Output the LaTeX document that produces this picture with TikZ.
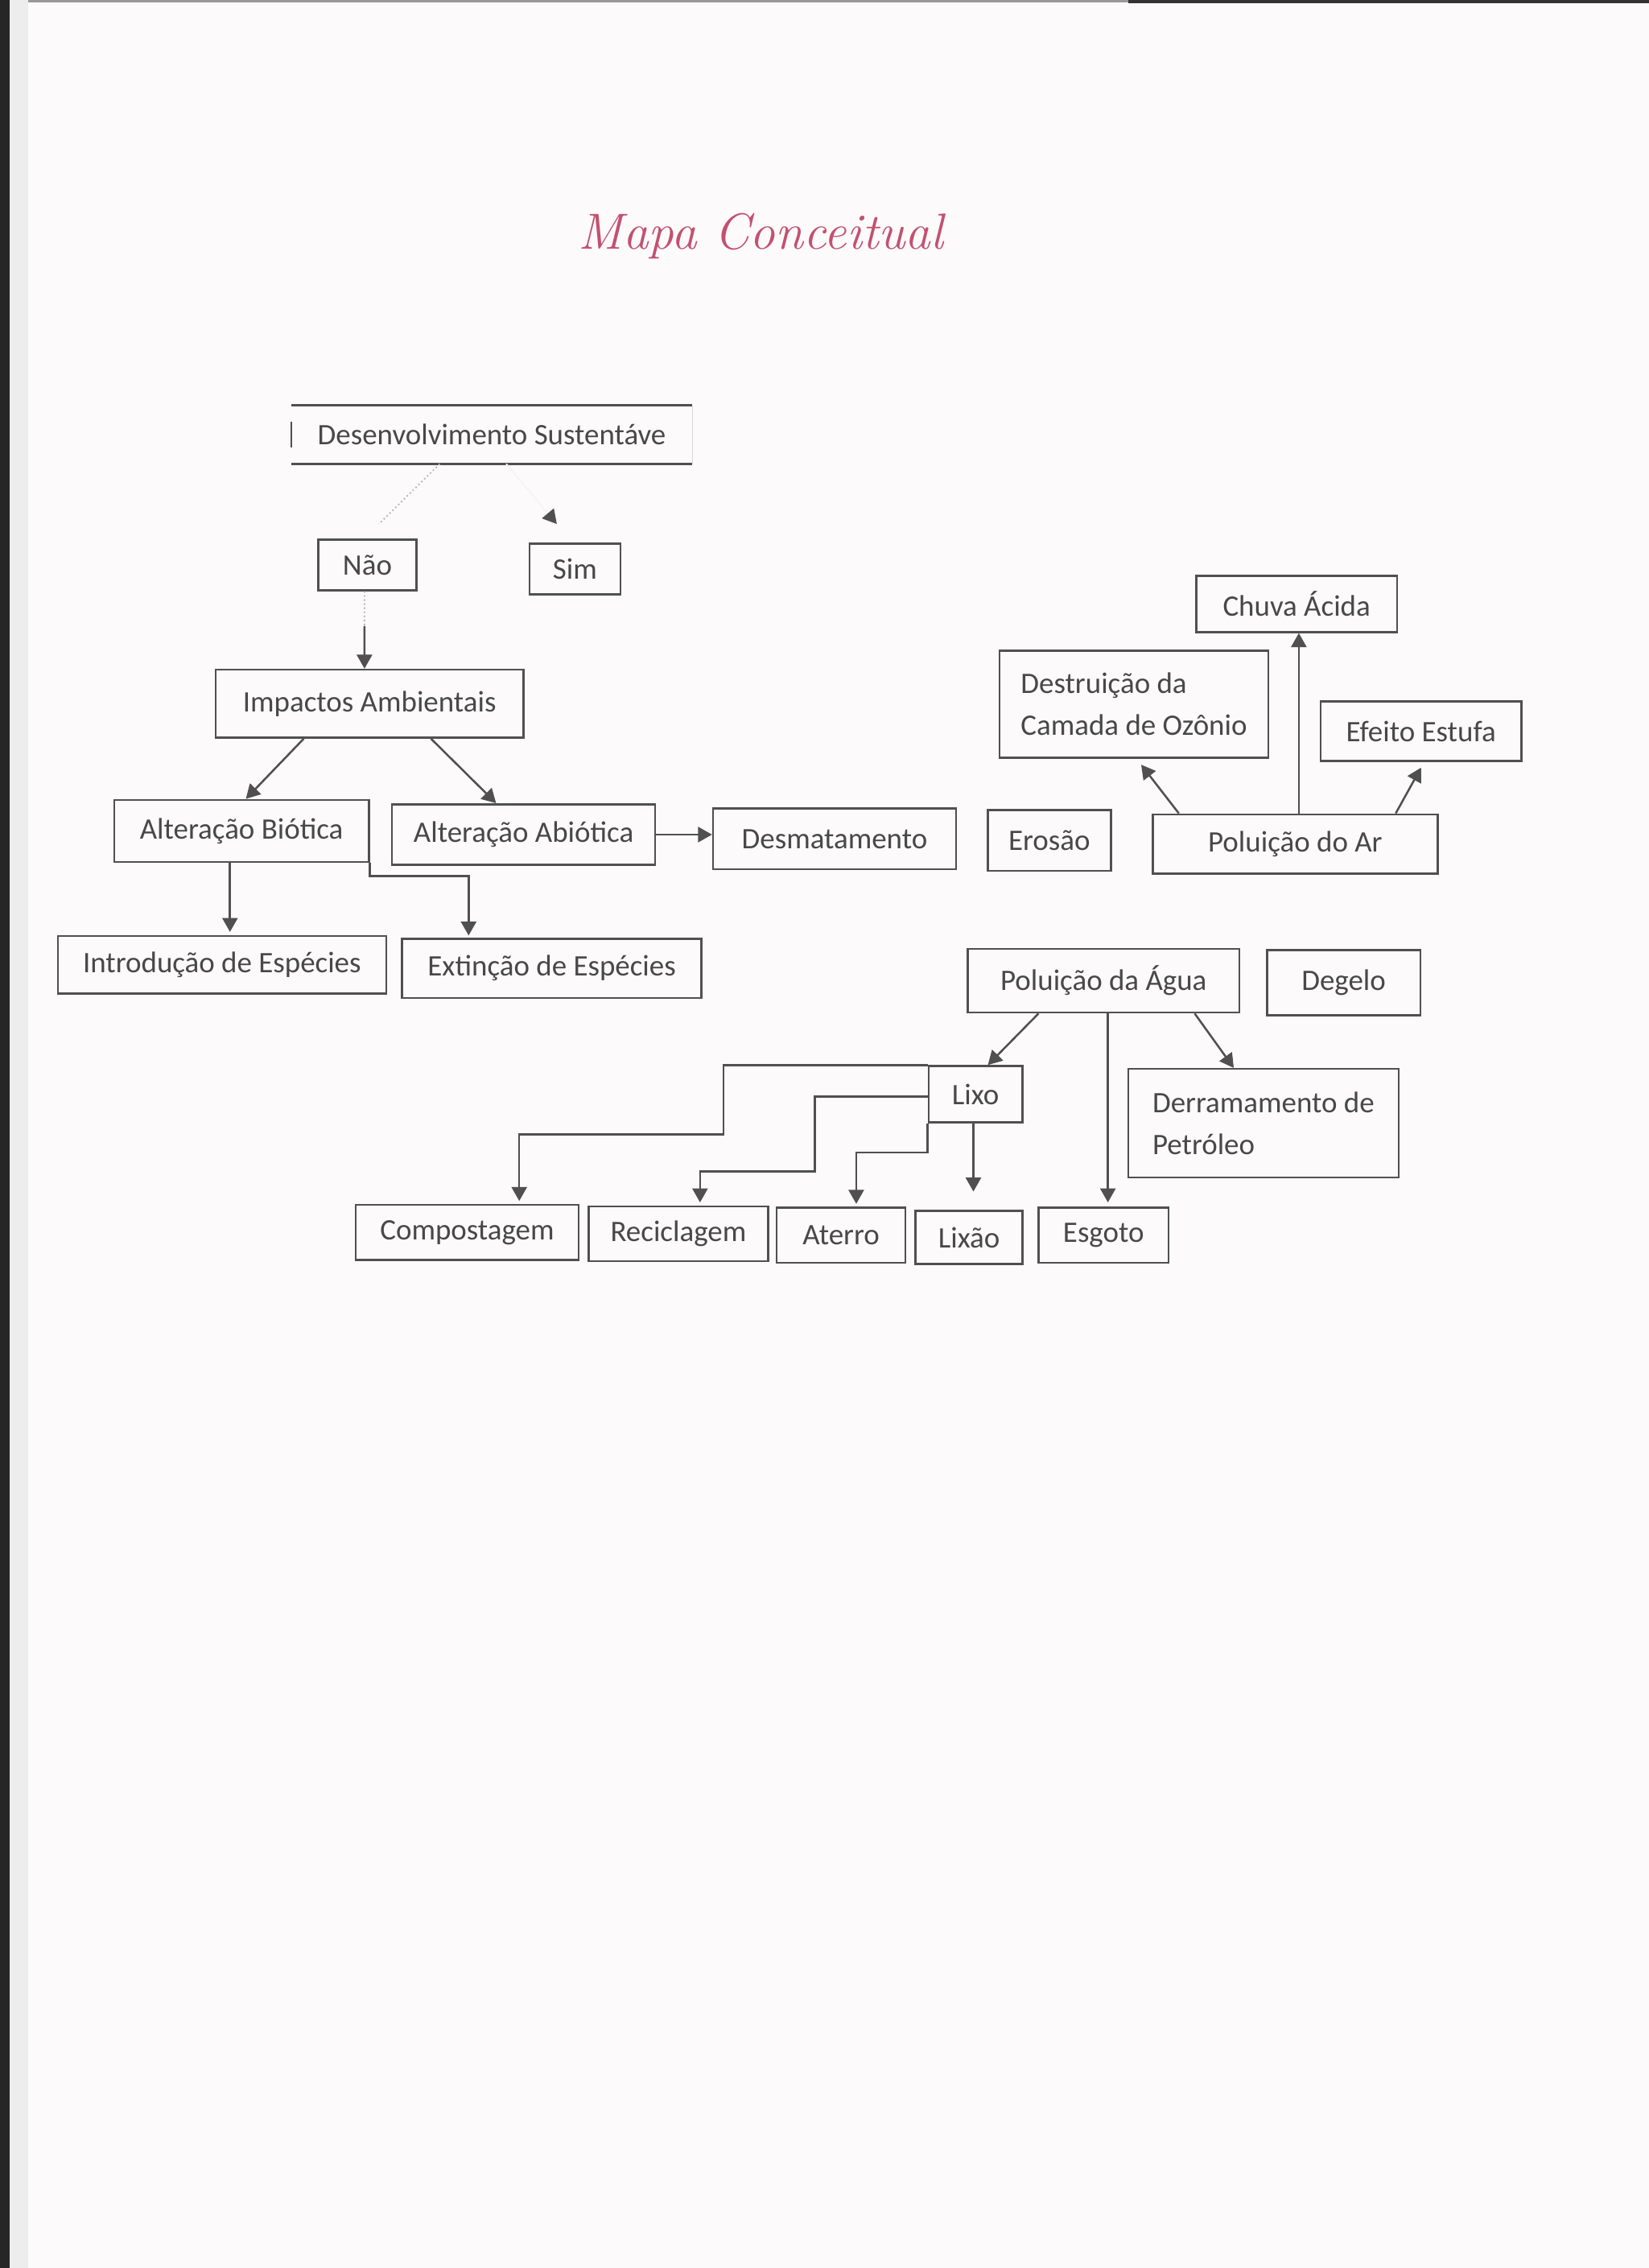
\documentclass[tikz,border=0pt]{standalone}
\usepackage{fontspec}
\newfontfamily\boxfont{Carlito}
\usetikzlibrary{calc, positioning, arrows.meta}

\definecolor{paper}{RGB}{252,250,251}
\definecolor{ink}{RGB}{72,72,72}
\definecolor{edge}{RGB}{80,80,80}
\definecolor{rose}{RGB}{196,80,112}

\tikzset{
  concept/.style={draw=edge, line width=0.8pt, text=ink, inner sep=0pt, align=center,
    font=\boxfont\fontsize{11.7}{16.5}\selectfont},
  dims/.style 2 args={minimum width=#1cm, minimum height=#2cm},
  twoline/.style={concept, align=left},
  link/.style={->, draw=edge, line width=0.8pt},
  faint/.style={draw=black!28, line width=0.6pt, densely dotted},
  ghost/.style={-{Triangle[length=5.5pt,width=6pt,color=edge]}, draw=black!4, line width=0.6pt},
}

\begin{document}
\begin{tikzpicture}[>={Triangle[length=5.5pt,width=6pt]}, x=1cm, y=1cm]
  \useasboundingbox (0,0) rectangle (22.8,-31.36);
  % sheet
  \fill[paper] (0,0) rectangle (22.8,-31.36);
  \fill[black!7] (0.13,0) rectangle (0.39,-31.36);
  \fill[black!85] (0,0) rectangle (0.13,-31.36);
  \fill[black!40] (0.39,0) rectangle (22.8,-0.03);
  \fill[black!80] (15.6,0) rectangle (22.8,-0.05);

  % title
  \node[font=\itshape\fontsize{20}{24}\selectfont, text=rose] (titulo) at (10.52,-3.26) {Mapa Conceitual};

  % top of the map
  \node[concept, draw=none, dims={5.52}{0.78}] (desenv) at (6.80,-6.01) {Desenvolvimento Sustentáve};
  \draw[edge, line width=0.8pt] (desenv.north west) -- (desenv.north east);
  \draw[edge, line width=0.8pt] (desenv.south west) -- (desenv.south east);
  \draw[edge, line width=0.8pt] ([yshift=0.18cm]desenv.west) -- ([yshift=-0.18cm]desenv.west);
  \draw[black!15, line width=0.5pt] (desenv.north east) -- (desenv.south east);
  \node[concept, dims={1.36}{0.70}] (nao) at (5.08,-7.81) {Não};
  \node[concept, dims={1.26}{0.70}] (sim) at (7.95,-7.87) {Sim};
  \node[concept, dims={4.26}{0.94}] (impactos) at (5.11,-9.73) {Impactos Ambientais};

  % alteracoes
  \node[concept, dims={3.52}{0.86}] (biotica) at (3.34,-11.49) {Alteração Biótica};
  \node[concept, dims={3.64}{0.84}] (abiotica) at (7.24,-11.54) {Alteração Abiótica};
  \node[concept, dims={3.36}{0.84}] (desmat) at (11.54,-11.60) {Desmatamento};
  \node[concept, dims={1.70}{0.84}] (erosao) at (14.51,-11.62) {Erosão};
  \node[concept, dims={4.54}{0.80}] (introd) at (3.07,-13.34) {Introdução de Espécies};
  \node[concept, dims={4.14}{0.82}] (extinc) at (7.63,-13.39) {Extinção de Espécies};

  % ar
  \node[concept, dims={3.94}{0.82}] (polar) at (17.91,-11.67) {Poluição do Ar};
  \node[concept, dims={2.78}{0.78}] (chuva) at (17.93,-8.35) {Chuva Ácida};
  \node[twoline, dims={3.72}{1.48}] (ozonio) at (15.68,-9.74) {Destruição da\\Camada de Ozônio};
  \node[concept, dims={2.78}{0.82}] (estufa) at (19.65,-10.11) {Efeito Estufa};

  % agua
  \node[concept, dims={3.76}{0.88}] (polagua) at (15.26,-13.56) {Poluição da Água};
  \node[concept, dims={2.12}{0.90}] (degelo) at (18.58,-13.59) {Degelo};
  \node[concept, dims={1.30}{0.78}] (lixo) at (13.49,-15.13) {Lixo};
  \node[twoline, dims={3.74}{1.50}] (derram) at (17.47,-15.53) {Derramamento de\\Petróleo};
  \node[concept, dims={3.08}{0.76}] (compost) at (6.46,-17.04) {Compostagem};
  \node[concept, dims={2.48}{0.76}] (recicl) at (9.38,-17.06) {Reciclagem};
  \node[concept, dims={1.78}{0.76}] (aterro) at (11.63,-17.08) {Aterro};
  \node[concept, dims={1.48}{0.74}] (lixao) at (13.40,-17.11) {Lixão};
  \node[concept, dims={1.80}{0.76}] (esgoto) at (15.26,-17.08) {Esgoto};

  % arrows, top
  \draw[faint] ([xshift=-0.72cm]desenv.south) -- ([xshift=0.16cm,yshift=0.2cm]nao.north);
  \draw[-{Triangle[length=5.5pt,width=6pt,color=edge]}, draw=none] ([xshift=0.26cm,yshift=0.32cm]nao.north) -- ([xshift=0.16cm,yshift=0.2cm]nao.north);
  \draw[ghost] ([xshift=0.2cm]desenv.south) -- ([xshift=-0.25cm,yshift=0.26cm]sim.north);
  \coordinate (naomid) at ($(nao.south)!0.45!(nao.south |- impactos.north)+(-0.04,0)$);
  \draw[faint] ([xshift=-0.04cm]nao.south) -- (naomid);
  \draw[link] (naomid) -- ($(nao.south |- impactos.north)+(-0.04,0)$);

  % arrows, impactos
  \draw[link] ([xshift=-0.91cm]impactos.south) -- ([xshift=0.06cm]biotica.north);
  \draw[link] ([xshift=0.85cm]impactos.south) -- ([xshift=-0.38cm]abiotica.north);
  \draw[link] (abiotica.east) -- (abiotica.east -| desmat.west);
  \draw[link] ([xshift=-0.16cm]biotica.south) -- ($(biotica.south |- introd.north)+(-0.16,0.04)$);
  \draw[link] (biotica.south east) -- ++(0,-0.18) -| ([xshift=-1.15cm,yshift=0.03cm]extinc.north);

  % arrows, ar
  \draw[link] ([xshift=-1.61cm]polar.north) -- ([xshift=0.1cm,yshift=-0.08cm]ozonio.south);
  \draw[link] ([xshift=0.05cm]polar.north) -- ($(polar.north |- chuva.south)+(0.05,0)$);
  \draw[link] ([xshift=1.39cm]polar.north) -- ([yshift=-0.08cm]estufa.south);

  % arrows, agua
  \draw[link] ([xshift=-0.9cm]polagua.south) -- ([xshift=0.17cm]lixo.north);
  \draw[link] ([xshift=0.06cm]polagua.south) -- ($(polagua.south |- esgoto.north)+(0.06,0.06)$);
  \draw[link] ([xshift=1.26cm]polagua.south) -- ([xshift=-0.41cm]derram.north);
  \draw[link] (lixo.north west) -- ++(-2.82,0) -- ++(0,-0.96) -| ([xshift=0.72cm,yshift=0.04cm]compost.north);
  \draw[link] ([yshift=-0.03cm]lixo.west) -- ++(-1.56,0) -- ++(0,-1.04) -| ([xshift=0.3cm,yshift=0.04cm]recicl.north);
  \draw[link] (lixo.south west) -- ++(0,-0.4) -| ([xshift=0.21cm,yshift=0.04cm]aterro.north);
  \draw[link] ([xshift=-0.03cm]lixo.south) -- ($(lixo.south |- lixao.north)+(-0.03,0.25)$);
\end{tikzpicture}
\end{document}
